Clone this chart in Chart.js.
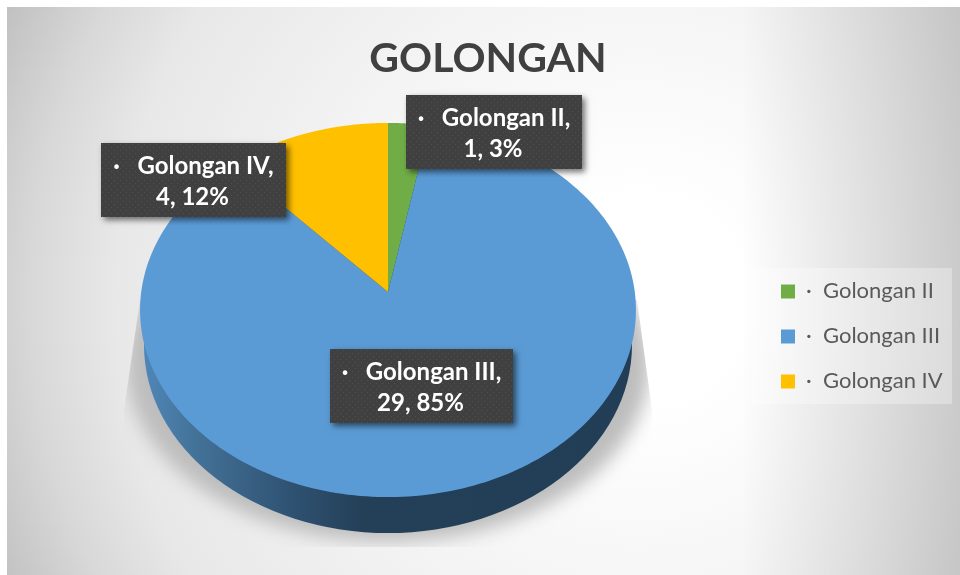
<!DOCTYPE html>
<html><head><meta charset="utf-8">
<style>html,body{margin:0;padding:0;background:#fff}canvas{display:block}</style>
<script src="https://cdn.jsdelivr.net/npm/chart.js@4"></script></head>
<body><canvas id="c" width="960" height="575"></canvas>
<script>
const chartTitle = 'GOLONGAN';
const categories = ['Golongan II', 'Golongan III', 'Golongan IV'];
const counts = [1, 29, 4];
const colors = ['#70AD47', '#5B9BD5', '#FFC000'];
const calloutCorners = [[406, 95], [330, 349], [101, 143]];
const calloutWidths = [176, 183, 185];
const FONT = 'Lato, Carlito, "Open Sans", sans-serif';

// Tilted-disc look: library-computed arcs are drawn through a perspective map
const TILT = 0.751, PERSP = -0.0963;
Chart.ArcElement.prototype.draw = function (ctx) {
  const p = this.getProps(['x', 'y', 'startAngle', 'endAngle', 'outerRadius']);
  const map = t => {
    const w = 1 + PERSP * Math.sin(t);
    return [p.x + p.outerRadius * Math.cos(t) / w,
            p.y + p.outerRadius * TILT * Math.sin(t) / w];
  };
  ctx.beginPath();
  ctx.moveTo(p.x, p.y);
  const n = 240;
  for (let i = 0; i <= n; i++) {
    const q = map(p.startAngle + (p.endAngle - p.startAngle) * i / n);
    ctx.lineTo(q[0], q[1]);
  }
  ctx.closePath();
  ctx.fillStyle = this.options.backgroundColor;
  ctx.fill();
};

const backdrop = {
  id: 'backdrop',
  beforeDraw(chart) {
    const ctx = chart.ctx, W = chart.width, H = chart.height;
    ctx.save();
    ctx.fillStyle = '#fff'; ctx.fillRect(0, 0, W, H);
    const r = 700;
    const g = ctx.createRadialGradient(640, 300, 0, 640, 300, r);
    g.addColorStop(0, '#ffffff');
    g.addColorStop(100 / r, '#ffffff');
    g.addColorStop(320 / r, '#f4f4f4');
    g.addColorStop(525 / r, '#e8e8e8');
    g.addColorStop(610 / r, '#d8d8d8');
    g.addColorStop(1, '#c0c0c0');
    ctx.fillStyle = g; ctx.fillRect(7, 7, W - 7, H - 7);
    const o = ctx.createLinearGradient(740, 0, 960, 0);
    o.addColorStop(0, 'rgba(0,0,0,0)');
    o.addColorStop(1, 'rgba(0,0,0,0.17)');
    ctx.fillStyle = o; ctx.fillRect(740, 7, 220, H - 7);
    ctx.fillStyle = 'rgba(255,255,255,0.3)';
    ctx.fillRect(752, 268, 200, 136);
    ctx.restore();
  },
  afterLayout(chart) {
    const l = chart.legend;
    const dx = 758 - l.left, dy = 86;
    l.left += dx; l.right += dx; l.top += dy; l.bottom += dy;
    const shift = 388 - (chart.chartArea.left + chart.chartArea.right) / 2;
    chart.chartArea.left += shift; chart.chartArea.right += shift;
  },
  beforeDatasetsDraw(chart) {
    const ctx = chart.ctx, a = chart.getDatasetMeta(0).data[0];
    const cx = a.x, cy = a.y;
    // cast shadow
    ctx.save();
    ctx.beginPath();
    ctx.moveTo(cx - 248, cy + 8); ctx.lineTo(cx - 264, cy + 118); ctx.lineTo(cx - 264, cy + 255);
    ctx.lineTo(cx + 264, cy + 255); ctx.lineTo(cx + 264, cy + 118); ctx.lineTo(cx + 249, cy + 8);
    ctx.closePath(); ctx.clip();
    ctx.filter = 'blur(9px)';
    ctx.fillStyle = '#bdbdbd';
    ctx.beginPath(); ctx.ellipse(cx, cy + 72, 262, 178, 0, 0, Math.PI * 2); ctx.fill();
    ctx.restore();
    // side wall
    ctx.save();
    const g = ctx.createLinearGradient(cx - 244, 0, cx + 244, 0);
    g.addColorStop(0, '#4f86b8');
    g.addColorStop(0.1, '#447399');
    g.addColorStop(0.3, '#2f5272');
    g.addColorStop(0.45, '#243f58');
    g.addColorStop(1, '#223e56');
    ctx.fillStyle = g;
    ctx.beginPath(); ctx.ellipse(cx, cy + 53, 244, 188, 0, 0, Math.PI * 2); ctx.fill();
    ctx.restore();
  },
  afterDatasetsDraw(chart) {
    const ctx = chart.ctx;
    const tile = document.createElement('canvas'); tile.width = tile.height = 6;
    const t = tile.getContext('2d');
    t.fillStyle = '#404040'; t.fillRect(0, 0, 6, 6);
    t.fillStyle = '#505050'; t.fillRect(1, 1, 1, 1); t.fillRect(4, 4, 1, 1);
    const total = counts.reduce((s, v) => s + v, 0);
    categories.forEach((name, i) => {
      const [x, y] = calloutCorners[i], w = calloutWidths[i], h = 74;
      ctx.save();
      ctx.shadowColor = 'rgba(0,0,0,0.55)'; ctx.shadowBlur = 6; ctx.shadowOffsetX = 3; ctx.shadowOffsetY = 3;
      ctx.fillStyle = '#404040'; ctx.fillRect(x, y, w, h);
      ctx.restore();
      ctx.save();
      ctx.translate(x, y);
      ctx.fillStyle = ctx.createPattern(tile, 'repeat'); ctx.fillRect(0, 0, w, h);
      ctx.fillStyle = '#fff';
      ctx.textAlign = 'center'; ctx.textBaseline = 'middle';
      ctx.font = 'bold 24px ' + FONT;
      ctx.fillText('\u00B7   ' + name + ',', w / 2, 23);
      ctx.fillText(counts[i] + ', ' + Math.round(counts[i] / total * 100) + '%', w / 2 - 1, 54);
      ctx.restore();
    });
  }
};

new Chart(document.getElementById('c'), {
  type: 'pie',
  data: { labels: categories, datasets: [{ data: counts, backgroundColor: colors, borderWidth: 0, radius: 246.8 }] },
  options: {
    responsive: false, animation: false,
    layout: { padding: { left: 16, bottom: 74.2 } },
    plugins: {
      title: { display: true, text: chartTitle, color: '#404040', font: { family: FONT, size: 41, weight: 'bold' }, padding: { top: 34, bottom: 0 } },
      tooltip: { enabled: false },
      legend: {
        position: 'right',
        labels: {
          boxWidth: 14, boxHeight: 14, padding: 23, color: '#595959',
          font: { family: FONT, size: 22 },
          generateLabels(c) {
            return Chart.overrides.pie.plugins.legend.labels.generateLabels(c).map(it => ({ ...it, text: '\u00B7  ' + it.text }));
          }
        }
      }
    }
  },
  plugins: [backdrop]
});
</script></body></html>
